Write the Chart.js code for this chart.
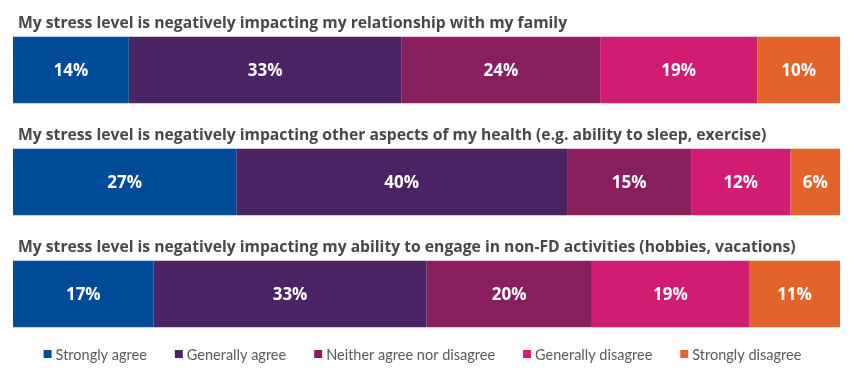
<!DOCTYPE html>
<html>
<head>
<meta charset="utf-8">
<script src="https://cdn.jsdelivr.net/npm/chart.js@4"></script>
<style>
  html, body { margin: 0; padding: 0; background: #fff; }
  #wrap { width: 860px; height: 376px; position: relative; }
</style>
</head>
<body>
<div id="wrap"><canvas id="c" width="860" height="376"></canvas></div>
<script>
const questions = [
  "My stress level is negatively impacting my relationship with my family",
  "My stress level is negatively impacting other aspects of my health (e.g. ability to sleep, exercise)",
  "My stress level is negatively impacting my ability to engage in non-FD activities (hobbies, vacations)"
];
const seriesNames = ["Strongly agree", "Generally agree", "Neither agree nor disagree", "Generally disagree", "Strongly disagree"];
const stronglyAgree    = [14, 27, 17];
const generallyAgree   = [33, 40, 33];
const neither          = [24, 15, 20];
const generallyDisagree= [19, 12, 19];
const stronglyDisagree = [10, 6, 11];
const seriesColors = ["#004B98", "#4A2462", "#8A1F5E", "#D11C72", "#E4632A"];

const allSeries = [stronglyAgree, generallyAgree, neither, generallyDisagree, stronglyDisagree];

const titlePlugin = {
  id: 'rowTitles',
  afterDatasetsDraw(chart) {
    const ctx = chart.ctx;
    const meta = chart.getDatasetMeta(0);
    ctx.save();
    ctx.font = "bold 15.7px 'Open Sans'";
    ctx.fillStyle = "#474747";
    ctx.textAlign = "left";
    ctx.textBaseline = "alphabetic";
    meta.data.forEach((bar, i) => {
      const top = bar.y - bar.height / 2;
      ctx.fillText(chart.data.labels[i], chart.chartArea.left + 5, top - 9);
    });
    // value labels
    ctx.font = "bold 17px 'Open Sans'";
    ctx.fillStyle = "#ffffff";
    ctx.textAlign = "center";
    ctx.textBaseline = "middle";
    chart.data.datasets.forEach((ds, di) => {
      const m = chart.getDatasetMeta(di);
      m.data.forEach((bar, i) => {
        const cx = (bar.x + bar.base) / 2;
        ctx.fillText(ds.data[i] + "%", cx, bar.y + 1);
      });
    });
    // legend
    ctx.font = "14.5px Lato";
    ctx.textBaseline = "middle";
    ctx.textAlign = "left";
    const box = 8, gapBox = 4, gapItem = 28;
    const items = chart.data.datasets.map(ds => ({ text: ds.label, color: ds.backgroundColor, w: ctx.measureText(ds.label).width }));
    let total = items.reduce((s, it) => s + box + gapBox + it.w, 0) + gapItem * (items.length - 1);
    let x = (chart.chartArea.left + chart.chartArea.right) / 2 - total / 2 - 4;
    const ly = chart.chartArea.bottom + 4;
    items.forEach(it => {
      ctx.fillStyle = it.color;
      ctx.fillRect(x, ly - box / 2, box, box);
      ctx.fillStyle = "#595959";
      ctx.fillText(it.text, x + box + gapBox, ly + 1);
      x += box + gapBox + it.w + gapItem;
    });
    ctx.restore();
  }
};

new Chart(document.getElementById('c'), {
  type: 'bar',
  data: {
    labels: questions,
    datasets: allSeries.map((d, i) => ({
      label: seriesNames[i],
      data: d,
      backgroundColor: seriesColors[i],
      borderWidth: 0,
      barPercentage: 0.595,
      categoryPercentage: 1.0
    }))
  },
  options: {
    indexAxis: 'y',
    responsive: false,
    animation: false,
    layout: { padding: { left: 13, right: 20, top: 14, bottom: 26 } },
    scales: {
      x: { stacked: true, min: 0, max: 100, display: false },
      y: { stacked: true, display: false }
    },
    plugins: {
      legend: { display: false },
      tooltip: { enabled: false }
    }
  },
  plugins: [titlePlugin]
});
</script>
</body>
</html>
